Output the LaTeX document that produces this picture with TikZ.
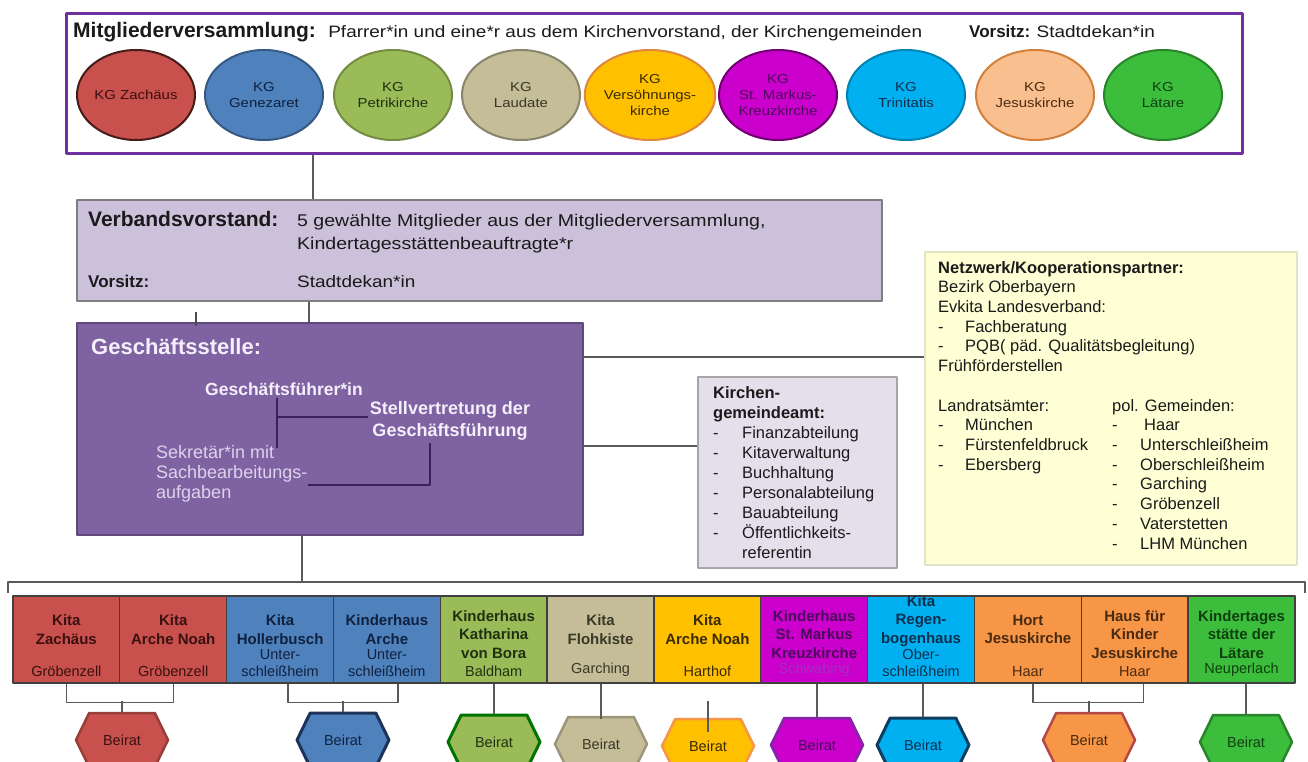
\documentclass[tikz,border=0pt]{standalone}
\usepackage{fontspec}
\setmainfont{Liberation Sans}
\newfontfamily\widefont{Liberation Sans}[FakeStretch=1.15]
\usetikzlibrary{shapes.geometric,shapes.symbols,positioning}

\definecolor{mvpurple}{HTML}{7030A0}
\definecolor{linegray}{HTML}{5A5A5A}
\definecolor{inktext}{HTML}{1A1A1A}
\definecolor{vvfill}{HTML}{CCC1DA}
\definecolor{vvline}{HTML}{7F7F7F}
\definecolor{gsfill}{HTML}{7F62A1}
\definecolor{gsline}{HTML}{5F497A}
\definecolor{gstext}{HTML}{F4EFFA}
\definecolor{sektext}{HTML}{DDD3EC}
\definecolor{gsdark}{HTML}{3B1F5E}
\definecolor{kgafill}{HTML}{E5DFEC}
\definecolor{kgaline}{HTML}{A6A6A6}
\definecolor{nwfill}{HTML}{FFFFD5}
\definecolor{nwline}{HTML}{E4E4C4}
\definecolor{boxline}{HTML}{404040}
% fills
\definecolor{cred}{HTML}{C9514D}
\definecolor{cblue}{HTML}{4F81BD}
\definecolor{colive}{HTML}{9BBB59}
\definecolor{ctan}{HTML}{C4BD97}
\definecolor{cgold}{HTML}{FFC000}
\definecolor{cmag}{HTML}{CC00CC}
\definecolor{ccyan}{HTML}{00B0F0}
\definecolor{corange}{HTML}{F79646}
\definecolor{cpeach}{HTML}{FABF8F}
\definecolor{clime}{HTML}{3CBE3C}
% dark text
\definecolor{tred}{HTML}{3A1010}
\definecolor{tblue}{HTML}{10213F}
\definecolor{tolive}{HTML}{1E3210}
\definecolor{ttan}{HTML}{3A3828}
\definecolor{tgold}{HTML}{3A2A00}
\definecolor{tmag}{HTML}{4A0A5A}
\definecolor{tmagl}{HTML}{A030C0}
\definecolor{tcyan}{HTML}{0F2F4F}
\definecolor{torange}{HTML}{4A2A10}
\definecolor{tlime}{HTML}{0F3F0F}

\begin{document}
\begin{tikzpicture}[x=1pt, y=-1pt, line join=round]
\tikzset{
  conn/.style={draw=linegray, line width=1.4pt},
  gsl/.style={draw=gsdark, line width=2pt},
  txt/.style={inner sep=0pt, text=inktext, font=\fontsize{16.5}{19.7}\selectfont},
  wide/.style={inner sep=0pt, text=inktext, font=\widefont\fontsize{16.5}{19.7}\selectfont},
  head/.style={inner sep=0pt, text=inktext, font=\fontsize{21}{24}\selectfont\bfseries},
  kg/.style={ellipse, minimum width=118pt, minimum height=90pt, inner sep=0pt, line width=2pt, align=center, font=\widefont\fontsize{13}{16}\selectfont},
  kita/.style={rectangle, draw=boxline, line width=1.3pt, minimum width=106.83pt, minimum height=87pt, inner sep=0pt},
  ktitle/.style={anchor=north, inner sep=0pt, align=center, font=\fontsize{15}{18.5}\selectfont\bfseries},
  kloc/.style={anchor=south, inner sep=0pt, align=center, font=\fontsize{14.5}{17}\selectfont},
  beirat/.style={signal, signal to=east and west, signal pointer angle=128, minimum width=92pt, minimum height=54pt, inner sep=0pt, line width=2.5pt, font=\fontsize{14.5}{17}\selectfont}
}
\useasboundingbox (0,0) rectangle (1308,762);
\clip (0,0) rectangle (1308,762);
\fill[white] (0,0) rectangle (1308,762);

% Mitgliederversammlung
\node[draw=mvpurple, fill=white, line width=3pt, minimum width=1176pt, minimum height=140pt, inner sep=0pt] (mv) at (654,84) {};
\node[head, anchor=base west] (mvtitle) at (73,38) {Mitgliederversammlung:};
\node[wide, anchor=base west] (mvtext) at ([xshift=12pt]mvtitle.base east) {Pfarrer*in und eine*r aus dem Kirchenvorstand, der Kirchengemeinden};
\node[txt, anchor=base west, font=\fontsize{17}{20}\selectfont\bfseries] (mvvorsitz) at (969,38) {Vorsitz:};
\node[wide, anchor=base west] (mvname) at ([xshift=6pt]mvvorsitz.base east) {Stadtdekan*in};

\node[kg, fill=cred, draw=cred!35!black, text=tred] (kg1) at (136,95) {KG Zachäus};
\node[kg, fill=cblue, draw=cblue!70!black, text=tblue] (kg2) at (264,95) {KG\\Genezaret};
\node[kg, fill=colive, draw=colive!75!black, text=tolive] (kg3) at (393,95) {KG\\Petrikirche};
\node[kg, fill=ctan, draw=ctan!70!black, text=ttan] (kg4) at (521,95) {KG\\Laudate};
\node[kg, fill=cgold, draw=corange!90!black, text=tgold] (kg5) at (650,95) {KG\\Versöhnungs-\\kirche};
\node[kg, fill=cmag, draw=cmag!55!black, text=tmag] (kg6) at (778,95) {KG\\St. Markus-\\Kreuzkirche};
\node[kg, fill=ccyan, draw=ccyan!75!black, text=tcyan] (kg7) at (906,95) {KG\\Trinitatis};
\node[kg, fill=cpeach, draw=corange!85!black, text=torange] (kg8) at (1035,95) {KG\\Jesuskirche};
\node[kg, fill=clime, draw=clime!70!black, text=tlime] (kg9) at (1163,95) {KG\\Lätare};

% Verbandsvorstand
\node[draw=vvline, fill=vvfill, line width=1.5pt, minimum width=805pt, minimum height=101pt, inner sep=0pt] (vv) at (479.5,250.5) {};
\node[head, anchor=base west] (vvtitle) at (88,226) {Verbandsvorstand:};
\node[wide, anchor=north west, align=left, font=\widefont\fontsize{17}{23}\selectfont] (vvtext) at (297,214) {5 gewählte Mitglieder aus der Mitgliederversammlung,\\Kindertagesstättenbeauftragte*r};
\node[txt, anchor=base west, font=\fontsize{17}{20}\selectfont\bfseries] (vvvorsitz) at (88,287) {Vorsitz:};
\node[wide, anchor=base west] (vvname) at (297,287) {Stadtdekan*in};

% Geschaeftsstelle
\node[draw=gsline, fill=gsfill, line width=1.5pt, minimum width=506pt, minimum height=212pt, inner sep=0pt] (gs) at (330,429) {};
\node[inner sep=0pt, anchor=base west, text=gstext, font=\fontsize{22}{25}\selectfont\bfseries] (gstitle) at (91,354) {Geschäftsstelle:};
\node[inner sep=2pt, text=gstext, font=\fontsize{17.5}{21}\selectfont\bfseries] (gf) at (284,389) {Geschäftsführer*in};
\node[inner sep=2pt, text=gstext, align=center, font=\fontsize{18}{22}\selectfont\bfseries] (stv) at (450,421) {Stellvertretung der\\Geschäftsführung};
\node[inner sep=0pt, anchor=north west, text=sektext, align=left, font=\fontsize{18}{20}\selectfont] (sek) at (156,445) {Sekretär*in mit\\Sachbearbeitungs-\\aufgaben};
\draw[gsl] ([yshift=4pt]stv.west) -| ([xshift=-7pt]gf.south);
\draw[gsl] ([xshift=-7pt]gf.south) -- ++(0,50);
\draw[gsl] ([xshift=-20pt]stv.south) |- ([yshift=-11pt]sek.east);

% Kirchengemeindeamt
\node[draw=kgaline, fill=kgafill, line width=1.5pt, minimum width=199pt, minimum height=191pt, inner sep=0pt] (kga) at (797.5,472.5) {};
\node[txt, anchor=north west, align=left, font=\fontsize{16.5}{20}\selectfont] (kgatext) at (713,386) {\textbf{Kirchen-}\\\textbf{gemeindeamt:}\\\makebox[29pt][l]{-}Finanzabteilung\\\makebox[29pt][l]{-}Kitaverwaltung\\\makebox[29pt][l]{-}Buchhaltung\\\makebox[29pt][l]{-}Personalabteilung\\\makebox[29pt][l]{-}Bauabteilung\\\makebox[29pt][l]{-}Öffentlichkeits-\\\makebox[29pt][l]{}referentin};

% Netzwerk
\node[draw=nwline, fill=nwfill, line width=1.5pt, minimum width=372pt, minimum height=313pt, inner sep=0pt] (nw) at (1111,408.5) {};
\node[txt, anchor=north west, align=left] (nwtext) at (938,261) {\textbf{Netzwerk/Kooperationspartner:}\\Bezirk Oberbayern\\Evkita Landesverband:\\\makebox[27pt][l]{-}Fachberatung\\\makebox[27pt][l]{-}PQB( päd. Qualitätsbegleitung)\\Frühförderstellen\\[19.7pt]Landratsämter:\\\makebox[27pt][l]{-}München\\\makebox[27pt][l]{-}Fürstenfeldbruck\\\makebox[27pt][l]{-}Ebersberg};
\node[txt, anchor=north west, align=left] (nwgem) at (1112,399) {pol. Gemeinden:\\\makebox[28pt][l]{-}\hspace{4pt}Haar\\\makebox[28pt][l]{-}Unterschleißheim\\\makebox[28pt][l]{-}Oberschleißheim\\\makebox[28pt][l]{-}Garching\\\makebox[28pt][l]{-}Gröbenzell\\\makebox[28pt][l]{-}Vaterstetten\\\makebox[28pt][l]{-}LHM München};

% connectors
\coordinate (c1) at (313,0);
\coordinate (c2) at (309,0);
\coordinate (c3) at (302,0);
\coordinate (c4) at (0,357);
\coordinate (c5) at (0,446);
\coordinate (busl) at (8,582);
\coordinate (busr) at (1305,582);
\draw[conn] (mv.south -| c1) -- (vv.north -| c1);
\draw[conn] (vv.south -| c2) -- (gs.north -| c2);
\draw[conn] (gs.east |- c4) -- (nw.west |- c4);
\draw[conn] (gs.east |- c5) -- (kga.west |- c5);
\draw[conn] (gs.south -| c3) -- (busl -| c3);
\draw[conn] ([yshift=-11pt]busl) -- (busl) -- (busr) -- ([yshift=-11pt]busr);
\draw[line width=1.6pt, black!70] ([xshift=120pt,yshift=10pt]gs.north west) -- ++(0,14);

% Kitas
\node[kita, fill=cred] (k1) at (66.4,639.5) {};
\node[ktitle, text=tred] (k1t) at ([yshift=-19.5pt]k1.north) {Kita\\Zachäus};
\node[kloc, text=tred] (k1l) at ([yshift=7pt]k1.south) {Gröbenzell};
\node[kita, fill=cred] (k2) at (173.2,639.5) {};
\node[ktitle, text=tred] (k2t) at ([yshift=-19.5pt]k2.north) {Kita\\Arche Noah};
\node[kloc, text=tred] (k2l) at ([yshift=7pt]k2.south) {Gröbenzell};
\node[kita, fill=cblue] (k3) at (280.1,639.5) {};
\node[ktitle, text=tblue] (k3t) at ([yshift=-19.5pt]k3.north) {Kita\\Hollerbusch};
\node[kloc, text=tblue] (k3l) at ([yshift=7pt]k3.south) {Unter-\\schleißheim};
\node[kita, fill=cblue] (k4) at (386.9,639.5) {};
\node[ktitle, text=tblue] (k4t) at ([yshift=-19.5pt]k4.north) {Kinderhaus\\Arche};
\node[kloc, text=tblue] (k4l) at ([yshift=7pt]k4.south) {Unter-\\schleißheim};
\node[kita, fill=colive] (k5) at (493.7,639.5) {};
\node[ktitle, text=tolive] (k5t) at ([yshift=-15pt]k5.north) {Kinderhaus\\Katharina\\von Bora};
\node[kloc, text=tolive] (k5l) at ([yshift=7pt]k5.south) {Baldham};
\node[kita, fill=ctan] (k6) at (600.6,639.5) {};
\node[ktitle, text=ttan] (k6t) at ([yshift=-19.5pt]k6.north) {Kita\\Flohkiste};
\node[kloc, text=ttan] (k6l) at ([yshift=7pt]k6.south) {Garching};
\node[kita, fill=cgold] (k7) at (707.4,639.5) {};
\node[ktitle, text=tgold] (k7t) at ([yshift=-19.5pt]k7.north) {Kita\\Arche Noah};
\node[kloc, text=tgold] (k7l) at ([yshift=7pt]k7.south) {Harthof};
\node[kita, fill=cmag] (k8) at (814.2,639.5) {};
\node[ktitle, text=tmag] (k8t) at ([yshift=-15pt]k8.north) {Kinderhaus\\St. Markus\\Kreuzkirche};
\node[kloc, text=tmagl] (k8l) at ([yshift=7pt]k8.south) {Schwabing};
\node[kita, fill=ccyan] (k9) at (921.0,639.5) {};
\node[ktitle, text=tcyan] (k9t) at (k9.north) {Kita\\Regen-\\bogenhaus};
\node[kloc, text=tcyan] (k9l) at ([yshift=7pt]k9.south) {Ober-\\schleißheim};
\node[kita, fill=corange] (k10) at (1027.9,639.5) {};
\node[ktitle, text=torange] (k10t) at ([yshift=-19.5pt]k10.north) {Hort\\Jesuskirche};
\node[kloc, text=torange] (k10l) at ([yshift=7pt]k10.south) {Haar};
\node[kita, fill=corange] (k11) at (1134.7,639.5) {};
\node[ktitle, text=torange] (k11t) at ([yshift=-15pt]k11.north) {Haus für\\Kinder\\Jesuskirche};
\node[kloc, text=torange] (k11l) at ([yshift=7pt]k11.south) {Haar};
\node[kita, fill=clime] (k12) at (1241.5,639.5) {};
\node[ktitle, text=tlime] (k12t) at ([yshift=-15pt]k12.north) {Kindertages\\stätte der\\Lätare};
\node[kloc, text=tlime] (k12l) at ([yshift=7pt]k12.south) {Neuperlach};

% Beirat
\node[beirat, fill=cred, draw=cred!75!black, text=tred] (b1) at (122,740) {Beirat};
\node[beirat, fill=cblue, draw=tblue!80!cblue, line width=3pt, text=tblue] (b2) at (343,740) {Beirat};
\node[beirat, fill=colive, draw=green!45!black, line width=3pt, text=tolive] (b3) at (494,742) {Beirat};
\node[beirat, fill=ctan, draw=ctan!80!black, text=ttan] (b4) at (601,744) {Beirat};
\node[beirat, fill=cgold, draw=corange, text=tgold] (b5) at (708,746) {Beirat};
\node[beirat, fill=cmag, draw=mvpurple!80!cmag, text=tmag] (b6) at (817,745) {Beirat};
\node[beirat, fill=ccyan, draw=tblue!80!ccyan, line width=3pt, text=tcyan] (b7) at (923,745) {Beirat};
\node[beirat, fill=corange, draw=cred!90!black, text=torange] (b8) at (1089,740) {Beirat};
\node[beirat, fill=clime, draw=clime!70!black, text=tlime] (b9) at (1246,742) {Beirat};

\draw[conn] (k1.south) -- ++(0,19) -| (k2.south);
\draw[conn] (b1.north) -- ++(0,-11);
\draw[conn] ([xshift=8pt]k3.south) -- ++(0,19) -| ([xshift=11pt]k4.south);
\draw[conn] (b2.north) -- ++(0,-11);
\draw[conn] (b3.north) -- (b3.north |- k5.south);
\draw[conn] ([yshift=-3pt]b4.north) -- (b4.north |- k6.south);
\draw[conn] ([yshift=-14pt]b5.north) -- ([yshift=-17pt]k7.south -| b5.north);
\draw[conn] (b6.north) -- (b6.north |- k8.south);
\draw[conn] (b7.north) -- (b7.north |- k9.south);
\draw[conn] ([xshift=5pt]k10.south) -- ++(0,19) -| ([xshift=9pt]k11.south);
\draw[conn] (b8.north) -- ++(0,-11);
\draw[conn] (b9.north) -- (b9.north |- k12.south);
\end{tikzpicture}
\end{document}
